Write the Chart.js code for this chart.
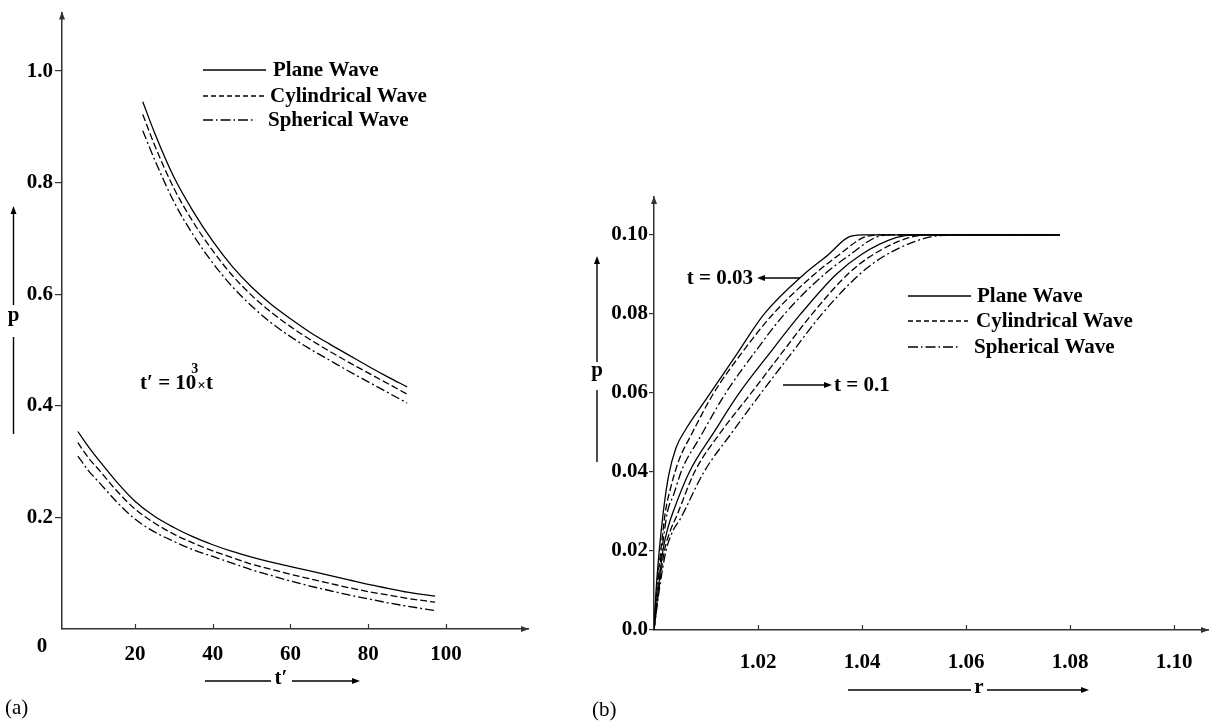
<!DOCTYPE html>
<html>
<head>
<meta charset="utf-8">
<script src="https://cdn.jsdelivr.net/npm/chart.js@4.4.0/dist/chart.umd.min.js"></script>
<style>
html, body { margin: 0; padding: 0; background: #fff; }
#wrap { position: relative; width: 1212px; height: 721px; }
canvas { position: absolute; left: 0; top: 0; }
</style>
</head>
<body>
<div id="wrap">
  <canvas id="chartA" width="1212" height="721"></canvas>
  <canvas id="chartB" width="1212" height="721"></canvas>
</div>
<script>
// ---- panel (a): p against t' ----
const tUpper = [22, 25, 30, 35, 40, 45, 50, 55, 60, 65, 70, 75, 80, 85, 90];
const planeUpper = [0.945, 0.89, 0.81, 0.748, 0.695, 0.650, 0.613, 0.582, 0.556, 0.532, 0.511, 0.491, 0.471, 0.452, 0.434];
const cylUpper = [0.922, 0.868, 0.790, 0.729, 0.678, 0.634, 0.598, 0.568, 0.542, 0.519, 0.498, 0.478, 0.459, 0.440, 0.421];
const sphUpper = [0.893, 0.842, 0.766, 0.706, 0.656, 0.614, 0.579, 0.549, 0.524, 0.502, 0.482, 0.462, 0.443, 0.424, 0.405];

const tLower = [5.3, 8, 11, 15, 20, 25, 30, 35, 40, 45, 50, 55, 60, 65, 70, 75, 80, 85, 90, 97.2];
const planeLower = [0.354, 0.327, 0.300, 0.266, 0.229, 0.202, 0.182, 0.165, 0.151, 0.139, 0.129, 0.120, 0.112, 0.104, 0.096, 0.088, 0.080, 0.073, 0.066, 0.059];
const cylLower = [0.334, 0.307, 0.283, 0.250, 0.215, 0.190, 0.170, 0.154, 0.140, 0.128, 0.116, 0.107, 0.098, 0.090, 0.082, 0.074, 0.067, 0.061, 0.055, 0.048];
const sphLower = [0.310, 0.284, 0.261, 0.230, 0.197, 0.174, 0.157, 0.142, 0.130, 0.118, 0.106, 0.096, 0.086, 0.077, 0.069, 0.061, 0.054, 0.047, 0.041, 0.033];

const ticksAX = [20, 40, 60, 80, 100];
const ticksAY = [0.2, 0.4, 0.6, 0.8, 1.0];

// ---- panel (b): p against r ----
const pPlane003 = [0, 0.01, 0.02, 0.03, 0.039, 0.046, 0.051, 0.058, 0.069, 0.08, 0.09, 0.095, 0.0993, 0.1, 0.1];
const rPlane003 = [1.0, 1.0004, 1.001, 1.0018, 1.0028, 1.0042, 1.0062, 1.0098, 1.0155, 1.0212, 1.0288, 1.0335, 1.0372, 1.0400, 1.0780];
const pCyl003 = [0, 0.01, 0.02, 0.03, 0.036, 0.043, 0.049, 0.06, 0.07, 0.08, 0.09, 0.095, 0.0993, 0.1, 0.1];
const rCyl003 = [1.0, 1.0005, 1.0013, 1.0022, 1.0032, 1.0048, 1.007, 1.0115, 1.0168, 1.0229, 1.0308, 1.0356, 1.0402, 1.0433, 1.078];
const pSph003 = [0, 0.01, 0.02, 0.03, 0.034, 0.041, 0.048, 0.06, 0.07, 0.08, 0.09, 0.095, 0.0993, 0.1, 0.1];
const rSph003 = [1.0, 1.0006, 1.0015, 1.0026, 1.0037, 1.0055, 1.0085, 1.0138, 1.0192, 1.0251, 1.0327, 1.0377, 1.0425, 1.0455, 1.078];

const pPlane01 = [0, 0.01, 0.02, 0.026, 0.03, 0.04, 0.05, 0.06, 0.07, 0.08, 0.09, 0.095, 0.0993, 0.1, 0.1];
const rPlane01 = [1.0, 1.0008, 1.0017, 1.0027, 1.0037, 1.0068, 1.0115, 1.0164, 1.0222, 1.0282, 1.035, 1.0398, 1.0465, 1.0501, 1.078];
const pCyl01 = [0, 0.01, 0.02, 0.025, 0.029, 0.04, 0.05, 0.06, 0.07, 0.08, 0.09, 0.095, 0.0993, 0.1, 0.1];
const rCyl01 = [1.0, 1.0009, 1.002, 1.0031, 1.0044, 1.0078, 1.0128, 1.0187, 1.0245, 1.0304, 1.0372, 1.0421, 1.049, 1.0527, 1.078];
const pSph01 = [0, 0.01, 0.02, 0.025, 0.028, 0.04, 0.05, 0.06, 0.07, 0.08, 0.09, 0.095, 0.0993, 0.1, 0.1];
const rSph01 = [1.0, 1.001, 1.0023, 1.0036, 1.005, 1.0096, 1.015, 1.0206, 1.0264, 1.0323, 1.0395, 1.0447, 1.0525, 1.0576, 1.078];

const ticksBX = [1.02, 1.04, 1.06, 1.08, 1.10];
const ticksBY = [0, 0.02, 0.04, 0.06, 0.08, 0.10];

const legendLabels = ['Plane Wave', 'Cylindrical Wave', 'Spherical Wave'];

const FONT = 'Liberation Serif, Times New Roman, serif';
const AXIS = '#333';
const DASH_CYL = [7, 3];
const DASH_SPH = [9, 3, 2, 3];

function pts(xs, ys) {
    return xs.map((x, i) => ({ x: x, y: ys[i] }));
}

function curve(data, dash) {
    return {
        data: data,
        borderColor: '#000',
        borderWidth: 1.3,
        borderDash: dash,
        pointRadius: 0,
        fill: false,
        cubicInterpolationMode: 'monotone'
    };
}

function arrow(ctx, x, y, dir) {
    ctx.beginPath();
    if (dir === 'up') {
        ctx.moveTo(x, y); ctx.lineTo(x - 3, y + 8); ctx.lineTo(x + 3, y + 8);
    } else if (dir === 'right') {
        ctx.moveTo(x, y); ctx.lineTo(x - 8, y - 3); ctx.lineTo(x - 8, y + 3);
    } else {
        ctx.moveTo(x, y); ctx.lineTo(x + 8, y - 3); ctx.lineTo(x + 8, y + 3);
    }
    ctx.closePath();
    ctx.fill();
}

function line(ctx, x1, y1, x2, y2, dash) {
    ctx.setLineDash(dash || []);
    ctx.beginPath();
    ctx.moveTo(x1, y1);
    ctx.lineTo(x2, y2);
    ctx.stroke();
    ctx.setLineDash([]);
}

function legendRows(ctx, rows) {
    ctx.font = 'bold 21px ' + FONT;
    ctx.textAlign = 'left';
    ctx.textBaseline = 'middle';
    ctx.lineWidth = 1.4;
    rows.forEach(r => {
        line(ctx, r.x1, r.y, r.x2, r.y, r.dash);
        ctx.fillText(r.label, r.tx, r.y + 1);
    });
}

function axisArrows(chart) {
    const ctx = chart.ctx;
    const a = chart.chartArea;
    ctx.fillStyle = AXIS;
    arrow(ctx, a.right + 1, a.bottom, 'right');
    arrow(ctx, a.left, a.top - 1, 'up');
}

function innerXTicks(chart, values) {
    const ctx = chart.ctx;
    const xs = chart.scales.x;
    const b = chart.chartArea.bottom;
    ctx.strokeStyle = AXIS;
    ctx.lineWidth = 1.2;
    values.forEach(v => {
        const px = Math.round(xs.getPixelForValue(v)) + 0.5;
        line(ctx, px, b, px, b - 5);
    });
}

const decorA = {
    id: 'decorA',
    afterDraw(chart) {
        const ctx = chart.ctx;
        ctx.save();
        axisArrows(chart);
        innerXTicks(chart, ticksAX);
        ctx.fillStyle = '#000';
        ctx.strokeStyle = '#000';

        // origin label
        ctx.font = 'bold 21px ' + FONT;
        ctx.textAlign = 'center';
        ctx.textBaseline = 'middle';
        ctx.fillText('0', 42, 647);

        // y label p with arrow
        ctx.lineWidth = 1.4;
        line(ctx, 13.5, 305, 13.5, 212);
        arrow(ctx, 13.5, 206, 'up');
        ctx.fillText('p', 13.5, 316);
        line(ctx, 13.5, 337, 13.5, 434);

        // x label t' with arrow
        line(ctx, 205, 681, 271, 681);
        ctx.fillText('t\u2032', 281, 679);
        line(ctx, 292, 681, 356, 681);
        arrow(ctx, 360, 681, 'right');

        // panel tag
        ctx.font = '21px ' + FONT;
        ctx.textAlign = 'left';
        ctx.fillText('(a)', 5, 708);

        // t' = 10^3 x t
        ctx.font = 'bold 21px ' + FONT;
        ctx.textAlign = 'left';
        const base = 't\u2032 = 10';
        ctx.fillText(base, 140, 384);
        const w = ctx.measureText(base).width;
        ctx.font = 'bold 14px ' + FONT;
        ctx.fillText('3', 140 + w - 5, 369);
        ctx.font = 'bold 15px ' + FONT;
        ctx.fillText('\u00d7', 140 + w + 1, 386);
        const wx = ctx.measureText('\u00d7').width;
        ctx.font = 'bold 21px ' + FONT;
        ctx.fillText('t', 140 + w + 1 + wx, 384);

        legendRows(ctx, [
            { x1: 203, x2: 266, y: 70, dash: [], label: legendLabels[0], tx: 273 },
            { x1: 203, x2: 265, y: 96, dash: [5, 3], label: legendLabels[1], tx: 270 },
            { x1: 203, x2: 253, y: 120, dash: [10, 3, 1.5, 3], label: legendLabels[2], tx: 268 }
        ]);
        ctx.restore();
    }
};

const decorB = {
    id: 'decorB',
    afterDraw(chart) {
        const ctx = chart.ctx;
        ctx.save();
        axisArrows(chart);
        innerXTicks(chart, ticksBX);
        ctx.fillStyle = '#000';
        ctx.strokeStyle = '#000';
        ctx.font = 'bold 21px ' + FONT;
        ctx.textAlign = 'center';
        ctx.textBaseline = 'middle';
        ctx.lineWidth = 1.4;

        // y label p with arrow
        line(ctx, 597, 362, 597, 262);
        arrow(ctx, 597, 256, 'up');
        ctx.fillText('p', 597, 371);
        line(ctx, 597, 390, 597, 462);

        // x label r with arrow
        line(ctx, 848, 690, 971, 690);
        ctx.fillText('r', 979, 688);
        line(ctx, 987, 690, 1085, 690);
        arrow(ctx, 1089, 690, 'right');

        // time annotations
        ctx.textAlign = 'right';
        ctx.fillText('t = 0.03', 753, 279);
        line(ctx, 764, 278, 800, 278);
        arrow(ctx, 757, 278, 'left');

        line(ctx, 783, 385, 826, 385);
        arrow(ctx, 832, 385, 'right');
        ctx.textAlign = 'left';
        ctx.fillText('t = 0.1', 834, 386);

        // panel tag
        ctx.font = '21px ' + FONT;
        ctx.fillText('(b)', 592, 710);

        legendRows(ctx, [
            { x1: 908, x2: 971, y: 296, dash: [], label: legendLabels[0], tx: 977 },
            { x1: 908, x2: 968, y: 321, dash: [5, 3], label: legendLabels[1], tx: 976 },
            { x1: 908, x2: 960, y: 347, dash: [10, 3, 1.5, 3], label: legendLabels[2], tx: 974 }
        ]);
        ctx.restore();
    }
};

const tickFont = { family: FONT, size: 21, weight: 'bold', lineHeight: 1 };

new Chart(document.getElementById('chartA'), {
    type: 'line',
    data: {
        datasets: [
            curve(pts(tUpper, planeUpper), []),
            curve(pts(tUpper, cylUpper), DASH_CYL),
            curve(pts(tUpper, sphUpper), DASH_SPH),
            curve(pts(tLower, planeLower), []),
            curve(pts(tLower, cylLower), DASH_CYL),
            curve(pts(tLower, sphLower), DASH_SPH)
        ]
    },
    options: {
        responsive: false,
        animation: false,
        devicePixelRatio: 1,
        layout: { padding: { left: 0, top: 9, right: 684, bottom: 0 } },
        plugins: { legend: { display: false }, tooltip: { enabled: false } },
        scales: {
            x: {
                type: 'linear',
                min: 1.22,
                max: 121.1,
                afterBuildTicks: s => { s.ticks = ticksAX.map(v => ({ value: v })); },
                afterFit: s => { s.height = 92; },
                grid: { display: false },
                border: { display: true, color: AXIS, width: 1.5 },
                ticks: { font: tickFont, color: '#000', padding: 7, maxRotation: 0, autoSkip: false, callback: v => String(v) }
            },
            y: {
                min: 0,
                max: 1.105,
                afterBuildTicks: s => { s.ticks = ticksAY.map(v => ({ value: v })); },
                afterFit: s => { s.width = 62; },
                grid: { drawOnChartArea: false, drawTicks: true, tickLength: 7, color: AXIS, lineWidth: 1.2 },
                border: { display: true, color: AXIS, width: 1.5 },
                ticks: { font: tickFont, color: '#000', padding: 2, autoSkip: false, callback: v => v.toFixed(1) }
            }
        }
    },
    plugins: [decorA]
});

new Chart(document.getElementById('chartB'), {
    type: 'line',
    data: {
        datasets: [
            curve(pts(rPlane003, pPlane003), []),
            curve(pts(rCyl003, pCyl003), DASH_CYL),
            curve(pts(rSph003, pSph003), DASH_SPH),
            curve(pts(rPlane01, pPlane01), []),
            curve(pts(rCyl01, pCyl01), DASH_CYL),
            curve(pts(rSph01, pSph01), DASH_SPH)
        ]
    },
    options: {
        responsive: false,
        animation: false,
        devicePixelRatio: 1,
        layout: { padding: { left: 594, top: 197, right: 4, bottom: 0 } },
        plugins: { legend: { display: false }, tooltip: { enabled: false } },
        scales: {
            x: {
                type: 'linear',
                min: 1.0,
                max: 1.1065,
                afterBuildTicks: s => { s.ticks = ticksBX.map(v => ({ value: v })); },
                afterFit: s => { s.height = 91; },
                grid: { display: false },
                border: { display: true, color: AXIS, width: 1.5 },
                ticks: { font: tickFont, color: '#000', padding: 14, maxRotation: 0, autoSkip: false, callback: v => v.toFixed(2) }
            },
            y: {
                min: 0,
                max: 0.1096,
                afterBuildTicks: s => { s.ticks = ticksBY.map(v => ({ value: v })); },
                afterFit: s => { s.width = 60; },
                grid: { drawOnChartArea: false, drawTicks: true, tickLength: 5, color: AXIS, lineWidth: 1.2 },
                border: { display: true, color: AXIS, width: 1.5 },
                ticks: { font: tickFont, color: '#000', padding: 1, autoSkip: false, callback: v => v === 0 ? '0.0' : v.toFixed(2) }
            }
        }
    },
    plugins: [decorB]
});
</script>
</body>
</html>
